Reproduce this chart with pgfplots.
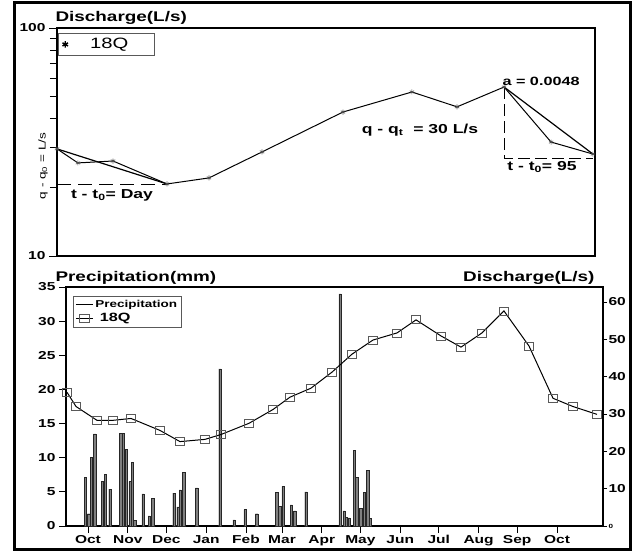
\documentclass[border=0pt]{standalone}
\usepackage{fontspec}
\setmainfont{Liberation Sans}[FakeStretch=1.35]
\usepackage{pgfplots}
\pgfplotsset{compat=1.18}

\newcommand{\fs}[1]{\fontsize{#1}{#1}\selectfont\bfseries}

\begin{document}
\begin{tikzpicture}[x=1pt,y=1pt]
\useasboundingbox (0,0) rectangle (634,552);
\draw[line width=3pt] (14,3) rectangle (630,549);

% upper panel: log discharge with recession lines
\begin{axis}[
  at={(57pt,296pt)}, anchor=south west,
  scale only axis, width=538pt, height=228pt,
  xmin=0, xmax=365, ymode=log, ymin=10, ymax=100,
  xtick=\empty, ytick={10,100}, yticklabels={10,100},
  minor ytick={20,30,40,50,60,70,80,90},
  ytick pos=left, tick align=outside,
  major tick length=8pt, minor tick length=7pt,
  major tick style={black, line width=0.8pt},
  minor tick style={black, line width=0.8pt},
  yticklabel style={font=\fs{11.5}},
  axis line style={line width=1.2pt},
  clip=false,
  legend style={at={(0.002,0.978)}, anchor=north west, draw=gray!70!black,
    line width=0.8pt, font=\fontsize{15}{15}\selectfont, inner xsep=4pt, inner ysep=3pt},
  legend cell align=left,
]
\addlegendimage{only marks, mark=asterisk, mark size=3.2pt, line width=1.4pt}
\addlegendentry{\makebox[78pt][l]{\hspace{20pt}18Q}}
\addplot[black, line width=1pt, mark=asterisk, mark size=2.5pt, mark options={gray!60!black, line width=0.6pt}] coordinates {
  (0,29.5) (14.2,25.6) (38.0,26.1) (74.6,20.7) (103.1,22.0) (139.1,28.6)
  (194.0,42.8) (240.8,52.4) (271.4,45.1) (303.3,55.1) (335.2,31.6) (363.6,28.0)
};
\addplot[black, line width=1.2pt] coordinates {(0,29.5) (74.6,20.7)};
\addplot[black, line width=1.2pt] coordinates {(303.3,55.1) (363.6,28.0)};
\addplot[black, line width=0.9pt, dash pattern=on 14pt off 7pt] coordinates {(0,20.7) (74.6,20.7)};
\addplot[black, line width=0.9pt, dash pattern=on 12pt off 5pt] coordinates {(303.3,55.1) (303.3,26.9) (363.6,26.9)};
\draw[line width=2.4pt] (rel axis cs:0,0) -- (rel axis cs:0,1);
\end{axis}

% lower panel: precipitation (left axis)
\begin{axis}[
  at={(66pt,26pt)}, anchor=south west,
  scale only axis, width=537pt, height=239pt,
  xmin=-17.1, xmax=400.8, ymin=0, ymax=35,
  xtick={0,31,61,92,123,151,182,212,243,273,304,334,365},
  xticklabels={Oct,Nov,Dec,Jan,Feb,Mar,Apr,May,Jun,Jul,Aug,Sep,Oct},
  ytick={0,5,...,35},
  xtick pos=bottom, ytick pos=left, tick align=outside,
  major tick length=7pt,
  every tick/.style={black, line width=0.8pt},
  xticklabel style={font=\fs{11.5}, yshift=1pt},
  yticklabel style={font=\fs{11.5}},
  /pgf/number format/assume math mode=true,
  axis line style={line width=1.2pt},
]
\addplot[ybar, bar width=2.4pt, fill=black!50, draw=black!85, line width=0.4pt] coordinates {
  (-2.1,7.1) (0.5,1.8) (2.6,10.1) (5.2,13.5) (11.1,6.5) (13.5,7.6) (17.1,5.4)
  (25.4,13.6) (27.5,13.6) (29.6,11.2) (32.7,6.5) (34.5,9.3) (36.3,0.8)
  (42.8,4.7) (47.7,1.5) (50.4,4.0) (66.9,4.8) (70.0,2.8) (71.8,5.3) (74.5,7.9)
  (84.6,5.6) (102.7,23.0) (113.6,0.9) (122.2,2.4) (131.3,1.8) (146.9,4.9)
  (149.2,2.9) (151.8,5.8) (158.2,3.1) (160.9,2.2) (169.6,5.0) (196.1,34.0)
  (199.2,2.2) (200.8,1.3) (203.1,1.2) (207.2,11.1) (209.1,7.1) (212.2,2.6)
  (215.0,4.9) (217.7,8.2) (219.5,1.1)
};
\draw[line width=2.4pt] (rel axis cs:0,0) -- (rel axis cs:0,1);
\end{axis}

% lower panel: discharge (right axis)
\begin{axis}[
  at={(66pt,26pt)}, anchor=south west,
  scale only axis, width=537pt, height=239pt,
  xmin=-17.1, xmax=400.8, ymin=0, ymax=64,
  axis y line*=right, axis x line=none,
  ytick={0,10,...,60},
  yticklabels={{\fontsize{6}{6}\selectfont 0},10,20,30,40,50,60},
  tick align=outside, major tick length=4pt,
  every tick/.style={black, line width=0.8pt},
  yticklabel style={font=\fs{11.5}, xshift=-2pt},
  axis line style={line width=2.2pt, -},
  legend style={at={(0.013,0.962)}, anchor=north west, draw=gray!70!black,
    line width=0.8pt, font=\fs{10}, inner sep=2pt, row sep=0pt},
  legend cell align=left,
]
\addlegendimage{black, line width=1pt}
\addlegendentry{Precipitation}
\addplot[black, line width=1pt, mark=square, mark size=4pt,
  mark options={draw=gray!70!black, line width=0.8pt, fill=white, xscale=1.2}] coordinates {
  (-16.3,35.8) (-9.3,32.0) (7.0,28.3) (19.5,28.3) (33.5,28.8) (56.0,25.6)
  (71.6,22.6) (91.1,23.2) (103.5,24.5) (125.3,27.5) (144.0,31.2) (157.2,34.5)
  (173.5,36.9) (189.9,41.2) (205.4,46.0) (221.8,49.8) (240.5,51.7) (255.3,55.2)
  (274.7,50.9) (290.3,47.9) (306.6,51.7) (323.7,57.6) (343.2,48.2) (361.9,34.2)
  (377.4,32.0) (396.1,29.9)
};
\addlegendentry{\fontsize{12}{12}\selectfont\ 18Q}
\end{axis}

% titles and annotations
\node[anchor=west, font=\fs{14}] at (52,534) {Discharge(L/s)};
\node[anchor=west, font=\fs{14}] at (52,274) {Precipitation(mm)};
\node[anchor=east, font=\fs{14}] at (598,274) {Discharge(L/s)};
\node[rotate=90, font=\fontsize{10}{10}\selectfont] at (43,386) {q - q\textsubscript{0} = L/s};
\node[font=\fs{13}] at (112,357) {t - t\textsubscript{0}= Day};
\node[anchor=west, font=\fs{12}] at (499,471) {a = 0.0048};
\node[font=\fs{13}] at (420,422) {q - q\textsubscript{t}\ \ = 30 L/s};
\node[font=\fs{13}] at (542,385) {t - t\textsubscript{0}= 95};
\end{tikzpicture}
\end{document}
